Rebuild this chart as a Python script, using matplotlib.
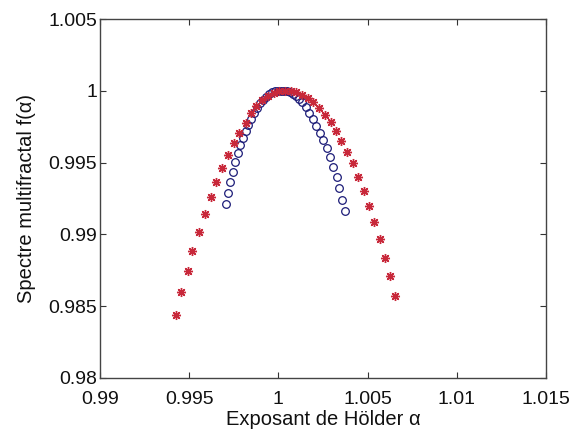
import matplotlib
matplotlib.use("Agg")
import matplotlib.pyplot as plt

plt.rcParams['font.family'] = ['Liberation Sans', 'DejaVu Sans']

# Red stars (alpha, f(alpha))
red_alpha = [0.994262, 0.994542, 0.994935, 0.995159, 0.995552, 0.995860, 0.996208,
             0.996505, 0.996859, 0.997178, 0.997532, 0.997812, 0.998171, 0.998451,
             0.998771, 0.999091, 0.999410, 0.999730, 1.000049, 1.000369, 1.000689,
             1.001008, 1.001328, 1.001648, 1.001962, 1.002298, 1.002618, 1.002938,
             1.003235, 1.003515, 1.003869, 1.004171, 1.004485, 1.004788, 1.005097,
             1.005366, 1.005702, 1.005955, 1.006263, 1.006544]
red_f = [0.984387, 0.985989, 0.987451, 0.988844, 0.990167, 0.991421, 0.992605,
         0.993649, 0.994624, 0.995530, 0.996345, 0.997083, 0.997779, 0.998434,
         0.998942, 0.999325, 0.999638, 0.999847, 0.999966, 1.000000, 0.999973,
         0.999882, 0.999722, 0.999499, 0.999242, 0.998782, 0.998315, 0.997807,
         0.997201, 0.996505, 0.995760, 0.994938, 0.994019, 0.993002, 0.991943,
         0.990829, 0.989659, 0.988378, 0.987103, 0.985676]

# Blue circles (alpha, f(alpha))
blue_alpha = [0.997066, 0.997161, 0.997290, 0.997442, 0.997571, 0.997722, 0.997868,
              0.998036, 0.998188, 0.998317, 0.998468, 0.998636, 0.998805, 0.998973,
              0.999141, 0.999309, 0.999478, 0.999646, 0.999814, 0.999982, 1.000150,
              1.000319, 1.000487, 1.000655, 1.000823, 1.000992, 1.001160, 1.001345,
              1.001552, 1.001738, 1.001928, 1.002113, 1.002338, 1.002523, 1.002713,
              1.002898, 1.003050, 1.003274, 1.003420, 1.003588, 1.003740]
blue_f = [0.992096, 0.992904, 0.993670, 0.994367, 0.995021, 0.995648, 0.996226,
          0.996735, 0.997222, 0.997619, 0.998016, 0.998434, 0.998803, 0.999116,
          0.999381, 0.999597, 0.999764, 0.999889, 0.999966, 0.999994, 1.000000,
          0.999994, 0.999966, 0.999896, 0.999778, 0.999604, 0.999443, 0.999242,
          0.998852, 0.998434, 0.998016, 0.997570, 0.997041, 0.996574, 0.995996,
          0.995411, 0.994715, 0.993977, 0.993211, 0.992396, 0.991630]

xticks = [0.99, 0.995, 1.0, 1.005, 1.01, 1.015]
xtick_labels = ['0.99', '0.995', '1', '1.005', '1.01', '1.015']
yticks = [0.98, 0.985, 0.99, 0.995, 1.0, 1.005]
ytick_labels = ['0.98', '0.985', '0.99', '0.995', '1', '1.005']

fig = plt.figure(figsize=(5.74, 4.29), dpi=100)
ax = fig.add_axes([100/574, 1 - 378/429, 446/574, 359/429])

ax.plot(blue_alpha, blue_f, linestyle='none', marker='o', markersize=5.5,
        markerfacecolor='none', markeredgecolor='#1c1c78', markeredgewidth=0.9)
ax.plot(red_alpha, red_f, linestyle='none', marker=(8, 2, 0), markersize=6.5,
        color='#c8283a', markeredgewidth=1.0)

ax.set_xlim(0.99, 1.015)
ax.set_ylim(0.98, 1.005)
ax.set_xticks(xticks)
ax.set_xticklabels(xtick_labels)
ax.set_yticks(yticks)
ax.set_yticklabels(ytick_labels)
ax.tick_params(direction='in', length=4, width=0.8, labelsize=14, colors='#333333',
               top=True, right=True)
ax.tick_params(axis='y', pad=2)
ax.tick_params(axis='x', pad=9)
ax.tick_params(labelcolor='#111111')
for s in ax.spines.values():
    s.set_color('#444444')
    s.set_linewidth(1.0)

ax.set_xlabel('Exposant de Hölder α', fontsize=14.5, color='#111111', labelpad=2)
ax.set_ylabel('Spectre multifractal f(α)', fontsize=14.5, color='#111111', labelpad=9)

fig.savefig('out.png', dpi=100)
